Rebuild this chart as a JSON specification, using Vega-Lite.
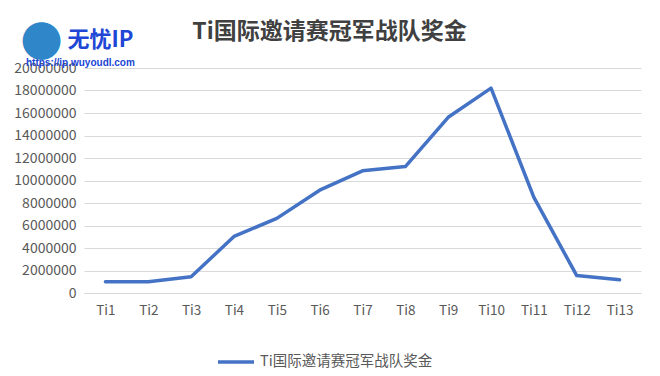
{
  "$schema": "https://vega.github.io/schema/vega-lite/v6.json",
  "autosize": "none",
  "width": 557,
  "height": 225,
  "padding": {"left": 84, "top": 68, "right": 19, "bottom": 83},
  "background": "white",
  "config": {
    "view": {"stroke": null},
    "font": "Noto Sans CJK SC"
  },
  "title": {
    "text": "Ti国际邀请赛冠军战队奖金",
    "anchor": "middle",
    "frame": "group",
    "dx": -33,
    "offset": -21,
    "fontSize": 23,
    "fontWeight": "bold",
    "color": "#404040",
    "font": "Noto Sans CJK SC"
  },
  "datasets": {
    "prize": [
      {"event": "Ti1", "prize": 1000000, "series": "Ti国际邀请赛冠军战队奖金"},
      {"event": "Ti2", "prize": 1000000, "series": "Ti国际邀请赛冠军战队奖金"},
      {"event": "Ti3", "prize": 1437204, "series": "Ti国际邀请赛冠军战队奖金"},
      {"event": "Ti4", "prize": 5025029, "series": "Ti国际邀请赛冠军战队奖金"},
      {"event": "Ti5", "prize": 6634661, "series": "Ti国际邀请赛冠军战队奖金"},
      {"event": "Ti6", "prize": 9139002, "series": "Ti国际邀请赛冠军战队奖金"},
      {"event": "Ti7", "prize": 10862683, "series": "Ti国际邀请赛冠军战队奖金"},
      {"event": "Ti8", "prize": 11234158, "series": "Ti国际邀请赛冠军战队奖金"},
      {"event": "Ti9", "prize": 15620181, "series": "Ti国际邀请赛冠军战队奖金"},
      {"event": "Ti10", "prize": 18208300, "series": "Ti国际邀请赛冠军战队奖金"},
      {"event": "Ti11", "prize": 8500000, "series": "Ti国际邀请赛冠军战队奖金"},
      {"event": "Ti12", "prize": 1550000, "series": "Ti国际邀请赛冠军战队奖金"},
      {"event": "Ti13", "prize": 1180000, "series": "Ti国际邀请赛冠军战队奖金"}
    ],
    "mark": [
      {"event": "Ti1", "prize": 22500000, "label": "无忧IP", "url": "https://ip.wuyoudl.com", "icon": "●"}
    ]
  },
  "encoding": {
    "x": {
      "field": "event",
      "type": "ordinal",
      "sort": null,
      "scale": {"paddingInner": 0, "paddingOuter": 0.5},
      "axis": {
        "title": null,
        "labelAngle": 0,
        "labelFontSize": 13.5,
        "labelColor": "#595959",
        "labelPadding": 10,
        "ticks": false,
        "domainColor": "#d9d9d9",
        "labelFont": "Noto Sans CJK SC"
      }
    },
    "y": {
      "field": "prize",
      "type": "quantitative",
      "scale": {"domain": [0, 20000000]},
      "axis": {
        "title": null,
        "values": [0, 2000000, 4000000, 6000000, 8000000, 10000000, 12000000, 14000000, 16000000, 18000000, 20000000],
        "format": "d",
        "labelOverlap": false,
        "labelFontSize": 14,
        "labelColor": "#595959",
        "labelPadding": 8,
        "ticks": false,
        "domain": false,
        "gridColor": "#d9d9d9",
        "labelFont": "Noto Sans CJK SC"
      }
    }
  },
  "layer": [
    {
      "data": {"name": "prize"},
      "mark": {"type": "line", "strokeWidth": 3.5, "strokeJoin": "round", "strokeCap": "round"},
      "encoding": {
        "color": {
          "field": "series",
          "type": "nominal",
          "scale": {"range": ["#4472C4"]},
          "legend": {
            "title": null,
            "orient": "none",
            "legendX": 132,
            "legendY": 274,
            "symbolType": "stroke",
            "symbolSize": 1300,
            "symbolStrokeWidth": 3.5,
            "labelFontSize": 14.5,
            "labelLimit": 0,
            "labelColor": "#595959",
            "labelFont": "Noto Sans CJK SC",
            "labelOffset": 4
          }
        }
      }
    },
    {
      "data": {"name": "mark"},
      "mark": {"type": "text", "clip": false, "fontSize": 42, "color": "#2f86c8", "align": "center", "dx": -64, "dy": 4},
      "encoding": {
        "text": {"field": "icon"}
      }
    },
    {
      "data": {"name": "mark"},
      "mark": {"type": "text", "clip": false, "fontSize": 22, "fontWeight": "bold", "color": "#2046d6", "align": "center", "dx": -5, "font": "Noto Sans CJK SC"},
      "encoding": {
        "text": {"field": "label"}
      }
    },
    {
      "data": {"name": "mark"},
      "mark": {"type": "text", "clip": false, "fontSize": 10, "fontWeight": "bold", "color": "#2046d6", "align": "center", "dx": -25, "dy": 23, "font": "Liberation Sans"},
      "encoding": {
        "text": {"field": "url"}
      }
    }
  ]
}
